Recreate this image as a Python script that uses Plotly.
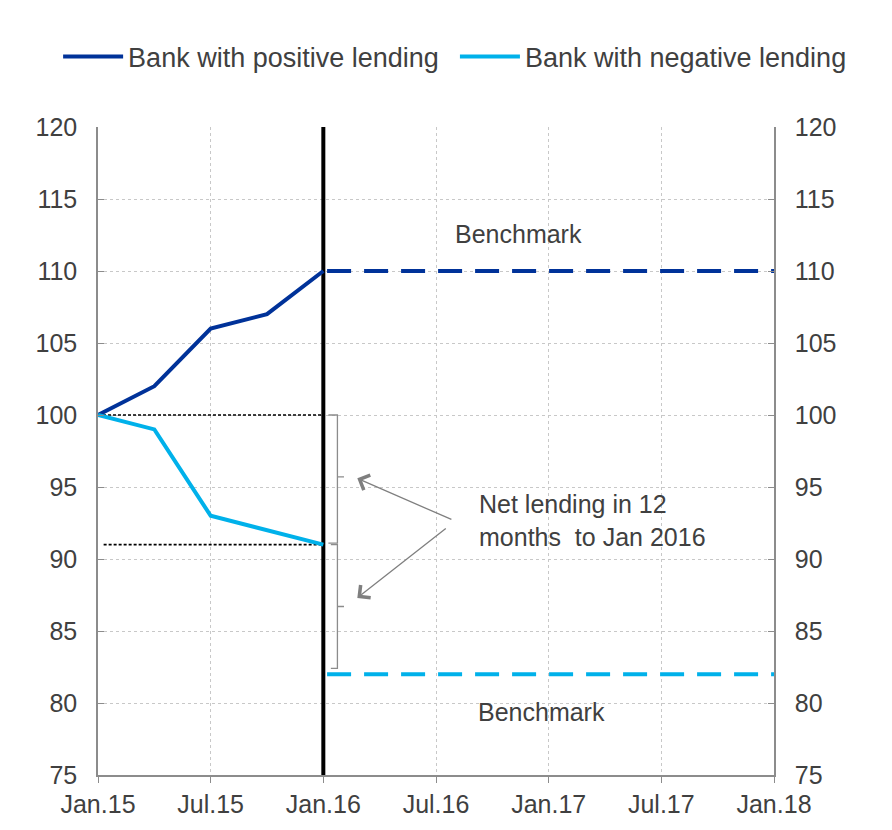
import plotly.graph_objects as go

# months since Jan 2015
months = [0, 3, 6, 9, 12]
positive = [100, 102, 106, 107, 110]
negative = [100, 99, 93, 92, 91]

bench_months = [12, 36]
bench_positive = [110, 110]
bench_negative = [82, 82]

tick_months = [0, 6, 12, 18, 24, 30, 36]
tick_labels = ["Jan.15", "Jul.15", "Jan.16", "Jul.16", "Jan.17", "Jul.17", "Jan.18"]
y_ticks = [75, 80, 85, 90, 95, 100, 105, 110, 115, 120]

ref_start = [0, 0.3]
ref_levels = [100, 91]
cut_month = 12

# bracket guides (months, values)
bracket1_x = [12.27, 12.75, 12.75, 13.1, 12.75, 12.75, 12.27]
bracket1_y = [100, 100, 95.7, 95.7, 95.7, 91.1, 91.1]
bracket2_x = [12.4, 12.75, 12.75, 13.1, 12.75, 12.75, 12.4]
bracket2_y = [91.0, 91.0, 86.7, 86.7, 86.7, 82.4, 82.4]

DARK = "#003299"
LIGHT = "#00B1EA"
TXT = "#404040"
FONT = "Liberation Sans, Arial, sans-serif"
FS = 25
LFS = 27

fig = go.Figure()

# reference dotted lines
for xs, lvl in zip(ref_start, ref_levels):
    fig.add_trace(go.Scatter(x=[xs, cut_month], y=[lvl, lvl], mode="lines",
                             line=dict(color="black", width=1.6, dash="3px,2px"),
                             showlegend=False, hoverinfo="skip"))

# brackets
for bx, by in [(bracket1_x, bracket1_y), (bracket2_x, bracket2_y)]:
    fig.add_trace(go.Scatter(x=bx, y=by, mode="lines",
                             line=dict(color="#8c8c8c", width=1.3),
                             showlegend=False, hoverinfo="skip"))

# vertical cut line
fig.add_trace(go.Scatter(x=[cut_month, cut_month], y=[75, 120], mode="lines",
                         line=dict(color="black", width=4),
                         showlegend=False, hoverinfo="skip"))

fig.add_trace(go.Scatter(x=months, y=positive, mode="lines", name="Bank with positive lending",
                         line=dict(color=DARK, width=4), legend="legend"))
fig.add_trace(go.Scatter(x=months, y=negative, mode="lines", name="Bank with negative lending",
                         line=dict(color=LIGHT, width=4), legend="legend2"))

fig.add_trace(go.Scatter(x=[cut_month + 0.2, bench_months[1]], y=bench_positive, mode="lines",
                         line=dict(color=DARK, width=4, dash="24px,13px"),
                         showlegend=False, hoverinfo="skip"))
fig.add_trace(go.Scatter(x=[cut_month + 0.2, bench_months[1]], y=bench_negative, mode="lines",
                         line=dict(color=LIGHT, width=4, dash="24px,13px"),
                         showlegend=False, hoverinfo="skip"))

# invisible trace for the right axis
fig.add_trace(go.Scatter(x=[0, 36], y=[75, 120], yaxis="y2", mode="markers",
                         marker=dict(opacity=0), showlegend=False, hoverinfo="skip"))

annotations = [
    dict(x=22.4, y=112.6, text="Benchmark", showarrow=False, xref="x", yref="y",
         font=dict(size=FS, color=TXT, family=FONT)),
    dict(x=23.6, y=79.4, text="Benchmark", showarrow=False, xref="x", yref="y",
         font=dict(size=FS, color=TXT, family=FONT)),
    dict(x=20.2, y=92.7, text="Net lending in 12<br>months  to Jan 2016", showarrow=False,
         xref="x", yref="y", xanchor="left", align="left",
         font=dict(size=FS, color=TXT, family=FONT)),
    dict(x=13.81, y=95.6, ax=18.9, ay=92.7, axref="x", ayref="y", xref="x", yref="y",
         text="", showarrow=True, arrowhead=4, arrowsize=2.4, arrowwidth=1.3, arrowcolor="#7f7f7f"),
    dict(x=13.81, y=87.3, ax=18.6, ay=92.2, axref="x", ayref="y", xref="x", yref="y",
         text="", showarrow=True, arrowhead=4, arrowsize=2.4, arrowwidth=1.3, arrowcolor="#7f7f7f"),
]

legend_common = dict(orientation="h", xanchor="left", y=1.108, yanchor="middle",
                     font=dict(size=LFS, color=TXT, family=FONT),
                     itemwidth=60, bgcolor="rgba(0,0,0,0)")

fig.update_layout(
    width=892, height=830,
    margin=dict(l=90, r=126, t=119, b=63),
    paper_bgcolor="white", plot_bgcolor="white",
    font=dict(family=FONT, size=FS, color=TXT),
    legend=dict(x=-0.059, **legend_common),
    legend2=dict(x=0.528, **legend_common),
    xaxis=dict(range=[0, 36], tickvals=tick_months, ticktext=tick_labels,
               showgrid=True, gridcolor="#c8c8c8", griddash="3px,3px", gridwidth=1,
               showline=True, linecolor="#8c8c8c", linewidth=1.5,
               ticks="outside", ticklen=6, tickcolor="#8c8c8c",
               zeroline=False, tickfont=dict(size=FS, color=TXT)),
    yaxis=dict(range=[75, 120], tickvals=y_ticks,
               showgrid=True, gridcolor="#c8c8c8", griddash="3px,3px", gridwidth=1,
               showline=True, linecolor="#8c8c8c", linewidth=1.5,
               ticks="inside", ticklen=6, tickcolor="#8c8c8c",
               ticklabelstandoff=14,
               zeroline=False, tickfont=dict(size=FS, color=TXT)),
    yaxis2=dict(range=[75, 120], tickvals=y_ticks, overlaying="y", side="right",
                showgrid=False, showline=True, linecolor="#8c8c8c", linewidth=1.5,
                ticks="inside", ticklen=6, tickcolor="#8c8c8c",
                ticklabelstandoff=14,
                zeroline=False, tickfont=dict(size=FS, color=TXT)),
    annotations=annotations,
)

fig.write_html("out.html")
